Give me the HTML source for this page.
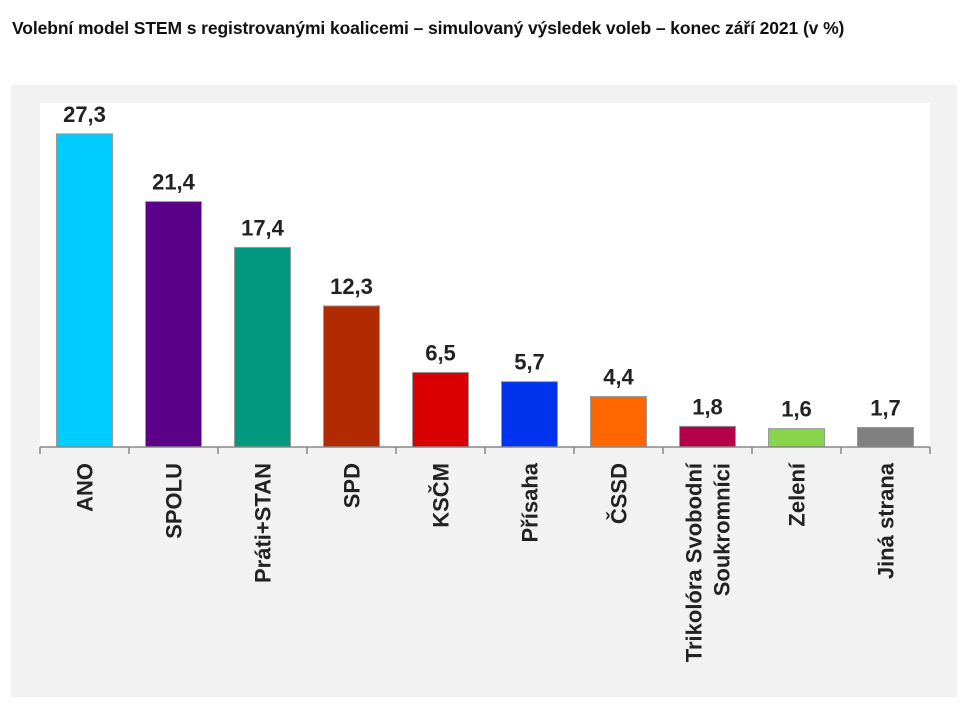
<!DOCTYPE html>
<html><head><meta charset="utf-8"><style>
body{margin:0;width:970px;height:712px;background:#fff;font-family:"Liberation Sans",sans-serif;overflow:hidden}
#title{position:absolute;left:12px;top:18px;font-size:17.5px;font-weight:bold;color:#111;white-space:nowrap;letter-spacing:-0.1px}
svg{position:absolute;left:0;top:0}
</style></head><body>
<div id="title">Volební model STEM s registrovanými koalicemi – simulovaný výsledek voleb – konec září 2021 (v %)</div>
<svg id="chart" width="970" height="712"></svg>
<script>
const categories=["ANO","SPOLU","Práti+STAN","SPD","KSČM","Přísaha","ČSSD","Trikolóra Svobodní|Soukromníci","Zelení","Jiná strana"];
const values=[27.3,21.4,17.4,12.3,6.5,5.7,4.4,1.8,1.6,1.7];
const valueLabels=["27,3","21,4","17,4","12,3","6,5","5,7","4,4","1,8","1,6","1,7"];
const colors=["#00ccff","#5b0088","#009980","#b22a00","#d80000","#0033ee","#ff6600","#b5004a","#88d44a","#808080"];
const NS="http://www.w3.org/2000/svg";
const svg=document.getElementById('chart');
const x0=40,x1=930,y0=447,scale=11.47;
const step=(x1-x0)/categories.length,bw=56;
const xC=i=>x0+step*(i+0.5);
const yV=v=>y0-v*scale;
function mk(t,a){const e=document.createElementNS(NS,t);for(const k in a)e.setAttribute(k,a[k]);svg.appendChild(e);return e;}
let p=mk('rect',{x:11,y:85,width:946,height:612,fill:'#f2f2f2'});


let pa=mk('rect',{x:x0,y:103,width:x1-x0,height:y0-103,fill:'#fff'});


values.forEach((v,i)=>{
 const r=mk('rect',{x:xC(i)-bw/2,y:yV(v),width:bw,height:y0-yV(v),fill:colors[i],stroke:'#999','stroke-width':1});
 
 
 const t=mk('text',{x:xC(i),y:yV(v)-12,'text-anchor':'middle','font-size':22,'font-weight':'bold',fill:'#222'});
 t.textContent=valueLabels[i];
 
 
 const lines=categories[i].split('|');
 const cx=xC(i);
 lines.forEach((ln,j)=>{
  const dx=(j-(lines.length-1)/2)*28+8;
  const lt=mk('text',{x:0,y:0,'text-anchor':'end','font-size':22,'font-weight':'bold',fill:'#222',transform:`translate(${cx+dx},463) rotate(-90)`});
  lt.textContent=ln;
  
  
 });
});
let ax=mk('line',{x1:x0,y1:y0,x2:x1,y2:y0,stroke:'#888','stroke-width':1.5});


for(let i=0;i<=categories.length;i++){
 const tk=mk('line',{x1:x0+step*i,y1:y0,x2:x0+step*i,y2:y0+7,stroke:'#888','stroke-width':1.5});
 
 
}
</script>
</body></html>
